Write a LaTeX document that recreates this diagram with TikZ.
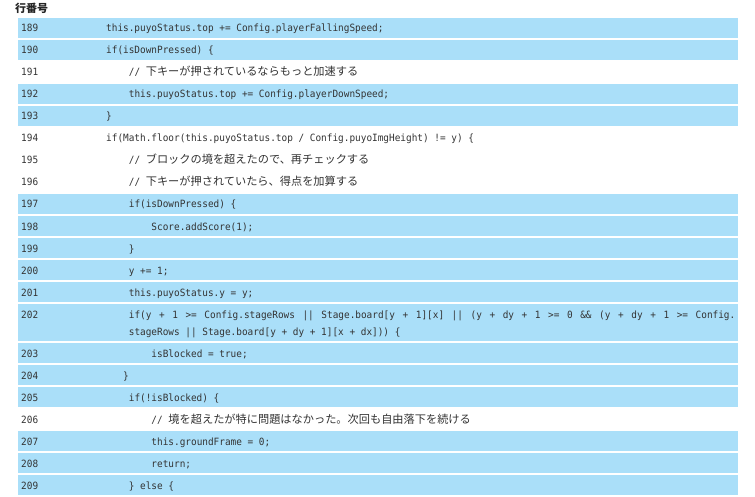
\documentclass[tikz,border=0pt]{standalone}
\usepackage{fontspec}
\newfontfamily\codefont{DejaVu Sans Mono}[FakeStretch=0.94]
\newfontfamily\jpfont{Noto Sans CJK JP}
\definecolor{rowblue}{RGB}{170,223,249}
\definecolor{txt}{RGB}{51,51,51}
\newcommand\jp[1]{{\jpfont\fontsize{11.2pt}{13pt}\selectfont #1}}
\newcommand\js{\hskip 0pt plus 1fil\relax}
\begin{document}
\begin{tikzpicture}[x=1pt,y=-1pt,
  rowbg/.style={fill=rowblue},
  code/.style={anchor=base west,inner sep=0pt,text=txt,font=\codefont\fontsize{10pt}{11pt}\selectfont},
  lnum/.style={code},
  head/.style={anchor=base west,inner sep=0pt,text=black!85,font=\jpfont\bfseries\fontsize{11pt}{13pt}\selectfont}]
\useasboundingbox[fill=white] (0,0) rectangle (755,497);
\def\cw{5.66}
\def\xa{106}
% header
\node[head] (hdr) at (15,12.3) {行番号};
% blue rows
\foreach \t in {18,40,84,106,194,216,238,260,282,343,365,387,431,453,475}
  \fill[rowbg] (18,\t) rectangle (738,\t+20);
\fill[rowbg] (18,304) rectangle (738,341);
% line numbers
\foreach \n/\t in {189/18,190/40,191/62,192/84,193/106,194/128,195/150,196/172,197/194,198/216,199/238,200/260,201/282,202/304,203/343,204/365,205/387,206/409,207/431,208/453,209/475}
  \node[lnum] (n\n) at (21,\t+14) {\n};
% code
\node[code] (c189) at (\xa,32) {this.puyoStatus.top += Config.playerFallingSpeed;};
\node[code] (c190) at (\xa,54) {if(isDownPressed) \{};
\node[code] (c191) at (\xa+4*\cw,76) {//~\jp{下キーが押されているならもっと加速する}};
\node[code] (c192) at (\xa+4*\cw,98) {this.puyoStatus.top += Config.playerDownSpeed;};
\node[code] (c193) at (\xa,120) {\}};
\node[code] (c194) at (\xa,142) {if(Math.floor(this.puyoStatus.top / Config.puyoImgHeight) != y) \{};
\node[code] (c195) at (\xa+4*\cw,164) {//~\jp{ブロックの境を超えたので、再チェックする}};
\node[code] (c196) at (\xa+4*\cw,186) {//~\jp{下キーが押されていたら、得点を加算する}};
\node[code] (c197) at (\xa+4*\cw,208) {if(isDownPressed) \{};
\node[code] (c198) at (\xa+8*\cw,230) {Score.addScore(1);};
\node[code] (c199) at (\xa+4*\cw,252) {\}};
\node[code] (c200) at (\xa+4*\cw,274) {y += 1;};
\node[code] (c201) at (\xa+4*\cw,296) {this.puyoStatus.y = y;};
\node[code] (c202a) at (\xa+4*\cw,318) {\hbox to 606.5pt{if(y\js{} +\js{} 1\js{} >=\js{} Config.stageRows\js{} ||\js{} Stage.board[y\js{} +\js{} 1][x]\js{} ||\js{} (y\js{} +\js{} dy\js{} +\js{} 1\js{} >=\js{} 0\js{} \&\&\js{} (y\js{} +\js{} dy\js{} +\js{} 1\js{} >=\js{} Config.}};
\node[code] (c202b) at (\xa+4*\cw,335) {stageRows || Stage.board[y + dy + 1][x + dx])) \{};
\node[code] (c203) at (\xa+8*\cw,357) {isBlocked = true;};
\node[code] (c204) at (\xa+3*\cw,379) {\}};
\node[code] (c205) at (\xa+4*\cw,401) {if(!isBlocked) \{};
\node[code] (c206) at (\xa+8*\cw,423) {//~\jp{境を超えたが特に問題はなかった。次回も自由落下を続ける}};
\node[code] (c207) at (\xa+8*\cw,445) {this.groundFrame = 0;};
\node[code] (c208) at (\xa+8*\cw,467) {return;};
\node[code] (c209) at (\xa+4*\cw,489) {\} else \{};
\end{tikzpicture}
\end{document}
